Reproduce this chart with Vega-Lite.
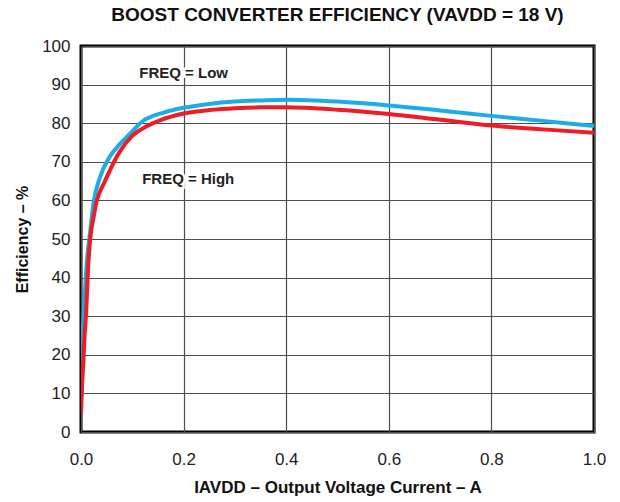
{
  "$schema": "https://vega.github.io/schema/vega-lite/v6.json",
  "autosize": {"type": "none"},
  "width": 513,
  "height": 386,
  "padding": {"left": 81, "top": 46, "right": 26, "bottom": 70},
  "config": {
    "font": "Liberation Sans",
    "view": {"stroke": "#000", "strokeWidth": 3},
    "background": "white"
  },
  "title": {
    "text": "BOOST CONVERTER EFFICIENCY (VAVDD = 18 V)",
    "font": "Liberation Sans",
    "fontSize": 19,
    "fontWeight": "bold",
    "color": "#111",
    "anchor": "middle",
    "offset": 12
  },
  "datasets": {
    "curves": [
      {"current": 0.001, "eff": 9, "freq": "Low"},
      {"current": 0.002, "eff": 20, "freq": "Low"},
      {"current": 0.005, "eff": 30, "freq": "Low"},
      {"current": 0.008, "eff": 37, "freq": "Low"},
      {"current": 0.012, "eff": 45, "freq": "Low"},
      {"current": 0.018, "eff": 52, "freq": "Low"},
      {"current": 0.024, "eff": 59, "freq": "Low"},
      {"current": 0.037, "eff": 66, "freq": "Low"},
      {"current": 0.056, "eff": 71.3, "freq": "Low"},
      {"current": 0.075, "eff": 74.5, "freq": "Low"},
      {"current": 0.095, "eff": 77.2, "freq": "Low"},
      {"current": 0.12, "eff": 80.5, "freq": "Low"},
      {"current": 0.16, "eff": 82.7, "freq": "Low"},
      {"current": 0.2, "eff": 84, "freq": "Low"},
      {"current": 0.25, "eff": 85, "freq": "Low"},
      {"current": 0.3, "eff": 85.6, "freq": "Low"},
      {"current": 0.35, "eff": 85.9, "freq": "Low"},
      {"current": 0.4, "eff": 86.1, "freq": "Low"},
      {"current": 0.5, "eff": 85.6, "freq": "Low"},
      {"current": 0.6, "eff": 84.6, "freq": "Low"},
      {"current": 0.7, "eff": 83.3, "freq": "Low"},
      {"current": 0.8, "eff": 81.9, "freq": "Low"},
      {"current": 0.9, "eff": 80.6, "freq": "Low"},
      {"current": 1.0, "eff": 79.3, "freq": "Low"},
      {"current": 0.0, "eff": 5, "freq": "High"},
      {"current": 0.002, "eff": 12, "freq": "High"},
      {"current": 0.0045, "eff": 18, "freq": "High"},
      {"current": 0.007, "eff": 25, "freq": "High"},
      {"current": 0.01, "eff": 31, "freq": "High"},
      {"current": 0.014, "eff": 43, "freq": "High"},
      {"current": 0.018, "eff": 50, "freq": "High"},
      {"current": 0.025, "eff": 56, "freq": "High"},
      {"current": 0.031, "eff": 60, "freq": "High"},
      {"current": 0.045, "eff": 64.5, "freq": "High"},
      {"current": 0.057, "eff": 68, "freq": "High"},
      {"current": 0.075, "eff": 72.5, "freq": "High"},
      {"current": 0.1, "eff": 76.7, "freq": "High"},
      {"current": 0.125, "eff": 79, "freq": "High"},
      {"current": 0.155, "eff": 80.8, "freq": "High"},
      {"current": 0.2, "eff": 82.5, "freq": "High"},
      {"current": 0.25, "eff": 83.4, "freq": "High"},
      {"current": 0.3, "eff": 83.9, "freq": "High"},
      {"current": 0.35, "eff": 84.1, "freq": "High"},
      {"current": 0.4, "eff": 84.1, "freq": "High"},
      {"current": 0.5, "eff": 83.5, "freq": "High"},
      {"current": 0.6, "eff": 82.4, "freq": "High"},
      {"current": 0.7, "eff": 80.9, "freq": "High"},
      {"current": 0.8, "eff": 79.4, "freq": "High"},
      {"current": 0.9, "eff": 78.4, "freq": "High"},
      {"current": 1.0, "eff": 77.5, "freq": "High"}
    ],
    "labels": [
      {"current": 0.2, "eff": 93.1, "label": "FREQ = Low"},
      {"current": 0.209, "eff": 65.5, "label": "FREQ = High"}
    ]
  },
  "encoding": {
    "x": {
      "field": "current", "type": "quantitative",
      "scale": {"domain": [0, 1], "nice": false, "zero": false},
      "axis": {
        "title": "IAVDD – Output Voltage Current – A",
        "values": [0, 0.2, 0.4, 0.6, 0.8, 1.0],
        "format": ".1f",
        "grid": true, "gridColor": "#4d4d4d", "gridOpacity": 1, "gridWidth": 1.2,
        "domain": false, "ticks": false,
        "labelFont": "Liberation Sans", "labelFontSize": 17, "labelColor": "#222",
        "labelPadding": 19, "labelFlush": false,
        "titleFont": "Liberation Sans", "titleFontSize": 17, "titleFontWeight": "bold",
        "titleColor": "#111", "titlePadding": 12
      }
    },
    "y": {
      "field": "eff", "type": "quantitative",
      "scale": {"domain": [0, 100], "nice": false},
      "axis": {
        "title": "Efficiency – %",
        "values": [0, 10, 20, 30, 40, 50, 60, 70, 80, 90, 100],
        "grid": true, "gridColor": "#4d4d4d", "gridOpacity": 1, "gridWidth": 1.2,
        "domain": false, "ticks": false, "labelOverlap": false,
        "labelFont": "Liberation Sans", "labelFontSize": 17, "labelColor": "#222",
        "labelPadding": 11,
        "titleFont": "Liberation Sans", "titleFontSize": 16, "titleFontWeight": "bold",
        "titleColor": "#111", "titlePadding": 11
      }
    }
  },
  "layer": [
    {
      "data": {"name": "labels"},
      "mark": {"type": "text", "font": "Liberation Sans", "fontSize": 15, "fontWeight": "bold", "color": "white", "stroke": "white", "strokeWidth": 5, "align": "center", "baseline": "middle"},
      "encoding": {
        "text": {"field": "label"}
      }
    },
    {
      "data": {"name": "curves"},
      "mark": {"type": "line", "strokeWidth": 4, "clip": true, "interpolate": "monotone"},
      "encoding": {
        "color": {
          "field": "freq", "type": "nominal",
          "scale": {"domain": ["Low", "High"], "range": ["#1AADE8", "#EE1C25"]},
          "legend": null
        },
        "order": {"field": "current", "type": "quantitative"}
      }
    },
    {
      "data": {"name": "labels"},
      "mark": {"type": "text", "font": "Liberation Sans", "fontSize": 15, "fontWeight": "bold", "color": "#222", "align": "center", "baseline": "middle"},
      "encoding": {
        "text": {"field": "label"}
      }
    }
  ]
}
